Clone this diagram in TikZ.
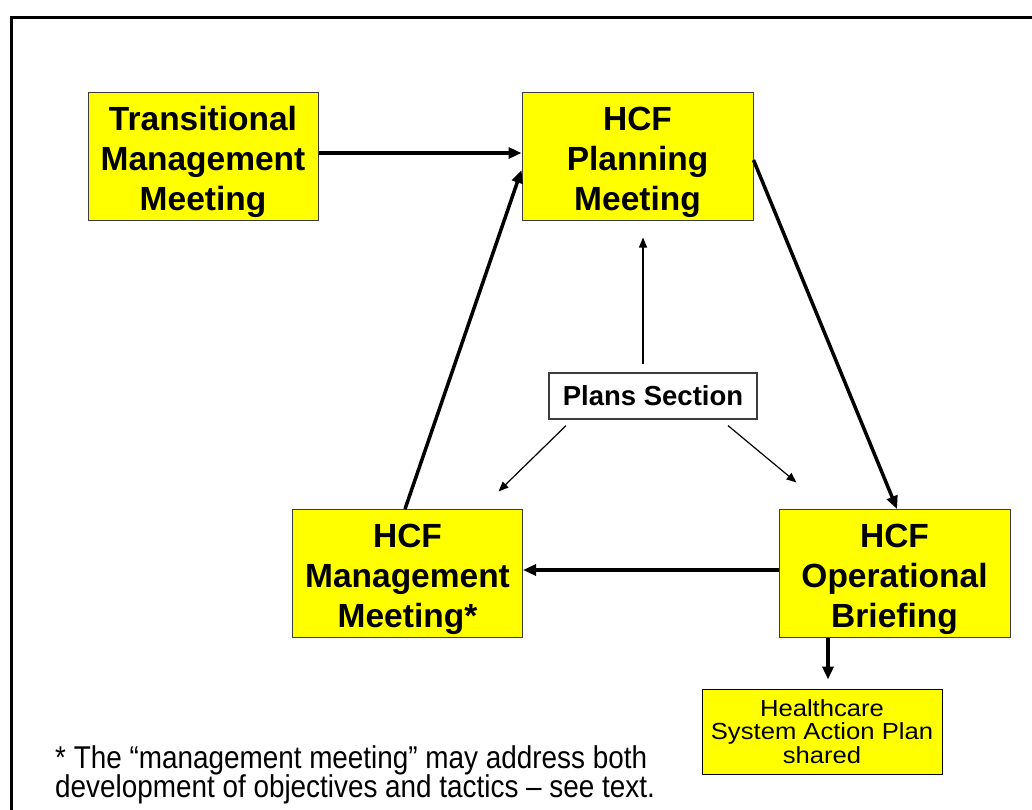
\documentclass[tikz,border=0pt]{standalone}
\usepackage{fontspec}
\setmainfont{Liberation Sans}
\newfontfamily\narrowfont[FakeStretch=0.885]{Liberation Sans}
\newfontfamily\wideplan[FakeStretch=1.1]{Liberation Sans}
\usetikzlibrary{arrows.meta}
\definecolor{boxyellow}{RGB}{255,255,0}
\definecolor{boxedge}{RGB}{60,60,60}
\newcommand{\toppad}{\rule{0pt}{35.5pt}}
\newcommand{\notefont}{\narrowfont\fontsize{31.5}{29}\selectfont\lineskiplimit=-100pt\relax\lineskip=0pt\relax}
\begin{document}
\begin{tikzpicture}[x=1pt,y=-1pt,
  meet/.style={draw=boxedge, line width=1pt, fill=boxyellow, align=center,
    minimum width=230pt, minimum height=128pt, inner sep=0pt,
    font=\bfseries\fontsize{33.5}{40}\selectfont},
  planbox/.style={draw=boxedge, line width=1.2pt, fill=white, align=center,
    minimum width=208pt, minimum height=46pt, inner sep=0pt,
    font=\bfseries\fontsize{27.5}{32}\selectfont},
  planout/.style={draw=black, line width=1pt, fill=boxyellow, align=center,
    minimum width=240pt, minimum height=85pt, inner sep=0pt,
    font=\wideplan\fontsize{23.3}{23.5}\selectfont},
  notetext/.style={align=left, inner sep=0pt, anchor=base west, font=\notefont},
  bigarrow/.style={line width=3.5pt, -{Triangle[length=13pt,width=11pt]}},
  thinarrow/.style={line width=1.2pt, -{Triangle[length=10pt,width=8pt]}}
]
\useasboundingbox (0,0) rectangle (1032,809);
\draw[line width=3pt] (1045,17) -- (11,17) -- (11,820);

\node[meet] (trans) at (203,156) {\toppad Transitional\\Management\\Meeting};
\node[meet, minimum width=231pt] (plan) at (637.5,156) {\toppad HCF\\Planning\\Meeting};
\node[meet] (mgmt) at (407.5,573.5) {\toppad HCF\\Management\\Meeting*};
\node[meet, minimum width=231pt] (oper) at (894.5,573.5) {\toppad HCF\\Operational\\Briefing};
\node[planbox] (plans) at (653,396) {Plans Section};
\node[planout] (hsap) at (822,731.5) {Healthcare\\System Action Plan\\shared};
\node[notetext] (note) at (55,797) {* The “management meeting” may address both\\development of objectives and tactics – see text.};

\draw[bigarrow] ([yshift=3pt]trans.east) -- ([yshift=3pt]plan.west);
\draw[bigarrow] ([yshift=-4pt]plan.east) -- ([xshift=2.5pt]oper.north);
\draw[bigarrow] ([yshift=3.5pt]oper.west) -- ([yshift=3.5pt]mgmt.east);
\draw[bigarrow] ([xshift=-2.5pt]mgmt.north) -- ([yshift=-14pt]plan.west);
\draw[bigarrow] ([xshift=-66.5pt]oper.south) -- ([xshift=6pt,yshift=9pt]hsap.north);

\draw[thinarrow] ([xshift=-10pt,yshift=8pt]plans.north) -- ([xshift=5.5pt,yshift=-17pt]plan.south);
\draw[thinarrow] ([xshift=-87pt,yshift=-6pt]plans.south) -- ([xshift=-24.5pt,yshift=17.5pt]mgmt.north east);
\draw[thinarrow] ([xshift=75pt,yshift=-6pt]plans.south) -- ([xshift=18pt,yshift=26.5pt]oper.north west);
\end{tikzpicture}
\end{document}
